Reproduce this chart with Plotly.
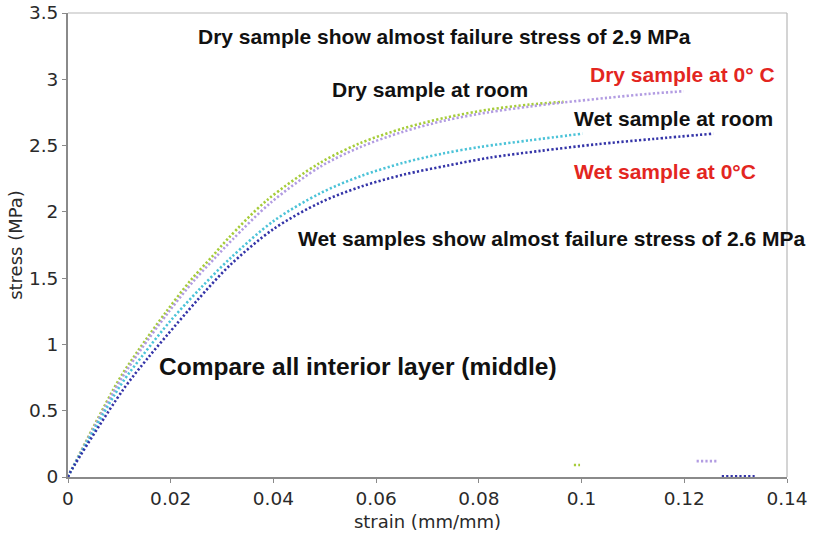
import plotly.graph_objects as go

# Stress-strain readings for interior-layer (middle) samples
dry_room_strain = [0, 0.0005, 0.0097, 0.0136, 0.0190, 0.0238, 0.0280, 0.0312, 0.0388,
                   0.0491, 0.0570, 0.0653, 0.0735, 0.0817, 0.0900, 0.0965]
dry_room_stress = [0, 0.04, 0.72, 0.95, 1.24, 1.48, 1.66, 1.80, 2.09,
                   2.37, 2.52, 2.63, 2.71, 2.77, 2.81, 2.83]

dry_cold_strain = [0, 0.0005, 0.0099, 0.0140, 0.0195, 0.0245, 0.0288, 0.0320, 0.0395,
                   0.0491, 0.0570, 0.0653, 0.0735, 0.0817, 0.0900, 0.0965, 0.1050,
                   0.1130, 0.1199]
dry_cold_stress = [0, 0.04, 0.71, 0.95, 1.24, 1.48, 1.66, 1.79, 2.07,
                   2.34, 2.49, 2.605, 2.69, 2.75, 2.795, 2.825, 2.86,
                   2.89, 2.91]

wet_room_strain = [0, 0.0005, 0.0102, 0.0146, 0.0200, 0.0257, 0.0316, 0.0400, 0.0491,
                   0.0570, 0.0653, 0.0730, 0.0803, 0.0900, 0.1002]
wet_room_stress = [0, 0.04, 0.69, 0.92, 1.18, 1.42, 1.65, 1.93, 2.14,
                   2.27, 2.37, 2.44, 2.49, 2.54, 2.59]

wet_cold_strain = [0, 0.0005, 0.0107, 0.0156, 0.0193, 0.0251, 0.0316, 0.0400, 0.0491,
                   0.0570, 0.0653, 0.0740, 0.0823, 0.0920, 0.1030, 0.1140, 0.1257]
wet_cold_stress = [0, 0.04, 0.657, 0.90, 1.07, 1.33, 1.60, 1.87, 2.07,
                   2.19, 2.28, 2.35, 2.41, 2.46, 2.51, 2.55, 2.59]

# Post-failure readings
dry_room_tail_strain = [0.0985, 0.0997]
dry_room_tail_stress = [0.09, 0.09]
dry_cold_tail_strain = [0.1224, 0.1265]
dry_cold_tail_stress = [0.12, 0.12]
wet_cold_tail_strain = [0.1273, 0.1337]
wet_cold_tail_stress = [0.005, 0.005]

x_ticks = [0, 0.02, 0.04, 0.06, 0.08, 0.1, 0.12, 0.14]
x_tick_labels = ["0", "0.02", "0.04", "0.06", "0.08", "0.1", "0.12", "0.14"]
y_ticks = [0, 0.5, 1, 1.5, 2, 2.5, 3, 3.5]
y_tick_labels = ["0", "0.5", "1", "1.5", "2", "2.5", "3", "3.5"]

GREEN = "#a6cc3a"
PURPLE = "#b29ce2"
CYAN = "#4cc3d8"
BLUE = "#3434a8"
RED = "#e3261f"

series = [
    (dry_room_strain, dry_room_stress, GREEN),
    (dry_cold_strain, dry_cold_stress, PURPLE),
    (wet_room_strain, wet_room_stress, CYAN),
    (wet_cold_strain, wet_cold_stress, BLUE),
    (dry_room_tail_strain, dry_room_tail_stress, GREEN),
    (dry_cold_tail_strain, dry_cold_tail_stress, PURPLE),
    (wet_cold_tail_strain, wet_cold_tail_stress, BLUE),
]

fig = go.Figure()
for xs, ys, col in series:
    fig.add_trace(go.Scatter(
        x=xs, y=ys, mode="lines", showlegend=False, hoverinfo="skip",
        line=dict(color=col, width=2.6, dash="2.2px,2.2px", shape="spline", smoothing=0.9),
    ))

label_font = dict(family="Liberation Sans, Arial, sans-serif", size=21, color="#111111")
red_font = dict(family="Liberation Sans, Arial, sans-serif", size=21, color=RED)
notes = [
    ("<b>Dry sample show almost failure stress of 2.9 MPa</b>", 0.0249, 3.323, label_font),
    ("<b>Dry sample at room</b>", 0.0511, 2.923, label_font),
    ("<b>Dry sample at 0° C</b>", 0.1012, 3.033, red_font),
    ("<b>Wet sample at room</b>", 0.0981, 2.704, label_font),
    ("<b>Wet sample at 0°C</b>", 0.0982, 2.307, red_font),
    ("<b>Wet samples show almost failure stress of 2.6 MPa</b>", 0.0444, 1.801, label_font),
    ("<b>Compare all interior layer (middle)</b>", 0.0173, 0.835,
     dict(family="Liberation Sans, Arial, sans-serif", size=24.5, color="#111111")),
]
for text, x, y, f in notes:
    fig.add_annotation(x=x, y=y, xref="x", yref="y", text=text, showarrow=False,
                       xanchor="left", yanchor="middle", font=f)

# light frame on the top and right sides
fig.add_shape(type="line", xref="paper", yref="paper", x0=0, x1=1, y0=1, y1=1,
              line=dict(color="#b8b8b8", width=1.2))
fig.add_shape(type="line", xref="paper", yref="paper", x0=1, x1=1, y0=0, y1=1,
              line=dict(color="#b8b8b8", width=1.2))

tick_font = dict(family="DejaVu Sans, sans-serif", size=18.5, color="#2a2a2a")
title_font = dict(family="DejaVu Sans, sans-serif", size=18, color="#2a2a2a")
fig.update_layout(
    width=814, height=537,
    margin=dict(l=68, r=27, t=13, b=60),
    paper_bgcolor="white", plot_bgcolor="white",
    xaxis=dict(range=[0, 0.14], tickvals=x_ticks, ticktext=x_tick_labels,
               automargin=False,
               showgrid=False, zeroline=False, showline=True, linecolor="#8a8a8a",
               linewidth=2, ticks="outside", ticklen=4, tickcolor="#8a8a8a",
               tickfont=tick_font,
               title=dict(text="strain (mm/mm)", font=title_font, standoff=7)),
    yaxis=dict(range=[0, 3.5], tickvals=y_ticks, ticktext=y_tick_labels,
               automargin=False,
               showgrid=False, zeroline=False, showline=True, linecolor="#8a8a8a",
               linewidth=2, ticks="outside", ticklen=4, tickcolor="#8a8a8a",
               tickfont=tick_font,
               title=dict(text="stress (MPa)", font=title_font, standoff=2)),
)

fig.write_html("out.html")
